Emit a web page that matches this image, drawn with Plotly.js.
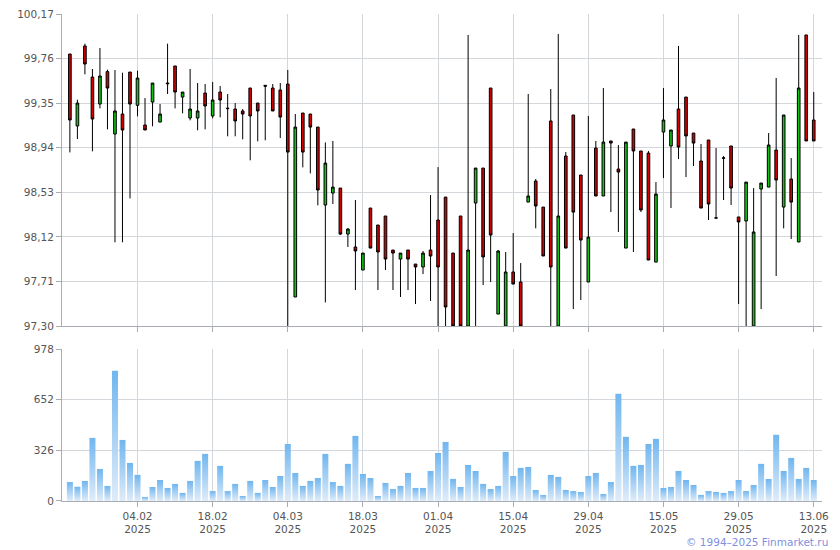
<!DOCTYPE html>
<html>
<head>
<meta charset="utf-8">
<script src="https://cdn.plot.ly/plotly-3.0.1.min.js"></script>
<style>
html,body{margin:0;padding:0;background:#fff;}
#chart{width:840px;height:550px;}
</style>
</head>
<body>
<div id="chart"></div>
<script>
const dates = [
"2025-01-22","2025-01-23","2025-01-24","2025-01-27","2025-01-28","2025-01-29","2025-01-30","2025-01-31","2025-02-03","2025-02-04",
"2025-02-05","2025-02-06","2025-02-07","2025-02-10","2025-02-11","2025-02-12","2025-02-13","2025-02-14","2025-02-17","2025-02-18",
"2025-02-19","2025-02-20","2025-02-21","2025-02-24","2025-02-25","2025-02-26","2025-02-27","2025-02-28","2025-03-03","2025-03-04",
"2025-03-05","2025-03-06","2025-03-07","2025-03-10","2025-03-11","2025-03-12","2025-03-13","2025-03-14","2025-03-17","2025-03-18",
"2025-03-19","2025-03-20","2025-03-21","2025-03-24","2025-03-25","2025-03-26","2025-03-27","2025-03-28","2025-03-31","2025-04-01",
"2025-04-02","2025-04-03","2025-04-04","2025-04-07","2025-04-08","2025-04-09","2025-04-10","2025-04-11","2025-04-14","2025-04-15",
"2025-04-16","2025-04-17","2025-04-18","2025-04-21","2025-04-22","2025-04-23","2025-04-24","2025-04-25","2025-04-28","2025-04-29",
"2025-04-30","2025-05-02","2025-05-05","2025-05-06","2025-05-07","2025-05-08","2025-05-12","2025-05-13","2025-05-14","2025-05-15",
"2025-05-16","2025-05-19","2025-05-20","2025-05-21","2025-05-22","2025-05-23","2025-05-26","2025-05-27","2025-05-28","2025-05-29",
"2025-05-30","2025-06-02","2025-06-03","2025-06-04","2025-06-05","2025-06-06","2025-06-09","2025-06-10","2025-06-11","2025-06-13"
];
const openP = [
99.802,99.140,99.876,99.590,99.342,99.640,99.066,99.250,99.636,99.330,
99.149,99.360,99.176,99.535,99.692,99.406,99.213,99.213,99.443,99.232,
99.452,99.304,99.296,99.278,99.489,99.351,99.514,99.489,99.471,99.526,
97.567,99.259,99.250,99.130,98.413,98.523,98.569,98.146,98.027,97.815,
98.385,98.229,98.312,97.999,97.916,97.999,97.870,97.843,97.999,98.275,
98.486,97.971,98.312,97.300,98.431,98.753,99.489,97.410,97.300,97.797,
97.705,98.440,98.634,98.394,99.186,97.300,98.864,99.241,98.689,97.705,
98.937,98.496,99.002,98.744,98.017,99.112,98.910,98.891,97.888,99.084,
98.956,99.296,99.406,99.075,98.818,99.011,98.295,98.847,98.956,98.303,
98.266,97.300,98.560,98.578,98.919,98.394,98.652,98.073,99.977,99.195
];
const highP = [
99.802,99.382,99.897,99.664,99.857,99.658,99.655,99.630,99.636,99.649,
99.397,99.535,99.342,99.897,99.692,99.452,99.664,99.535,99.526,99.544,
99.508,99.434,99.351,99.296,99.489,99.351,99.514,99.526,99.535,99.655,
99.250,99.259,99.250,99.130,98.989,99.002,98.569,98.201,98.459,97.971,
98.385,98.229,98.312,97.999,97.971,97.999,97.870,97.990,98.505,98.762,
98.486,97.971,98.312,99.977,98.753,98.753,99.489,97.999,97.981,98.155,
97.879,99.434,98.652,98.394,99.480,99.986,98.900,99.241,98.689,99.232,
99.002,99.489,99.002,98.965,98.992,99.112,98.910,98.910,98.624,99.489,
99.103,99.876,99.406,99.075,98.974,99.011,98.937,98.864,98.956,98.303,
98.624,98.569,98.615,99.075,99.581,99.241,98.845,99.977,99.977,99.452
];
const lowP = [
98.897,99.020,99.615,98.907,99.302,99.109,98.070,98.070,98.474,99.229,
99.103,99.137,99.176,99.434,99.302,99.256,99.192,99.100,99.109,99.210,
99.219,99.045,99.045,99.017,98.824,98.999,99.008,99.278,99.029,97.300,
97.567,98.759,98.704,98.410,97.517,98.422,98.137,98.027,97.631,97.815,
98.017,97.631,97.815,97.631,97.567,97.631,97.502,97.778,97.530,97.300,
97.300,97.300,97.300,97.300,97.300,97.677,97.705,97.410,97.300,97.686,
97.300,98.440,98.198,97.944,97.300,97.300,98.017,97.456,97.539,97.705,
98.496,98.496,98.348,98.165,98.017,97.981,98.348,97.907,97.888,98.661,
98.385,98.836,98.670,98.772,98.385,98.275,98.293,98.459,98.413,97.502,
97.300,97.300,97.456,98.578,97.760,98.198,98.100,98.073,99.002,99.002
];
const closeP = [
99.195,99.351,99.710,99.204,99.600,99.489,99.278,99.103,99.342,99.581,
99.103,99.535,99.250,99.529,99.452,99.452,99.296,99.278,99.324,99.379,
99.379,99.300,99.186,99.250,99.232,99.278,99.506,99.278,99.222,98.900,
99.130,98.900,99.130,98.551,98.799,98.578,98.146,98.192,97.990,97.971,
98.017,97.981,97.916,97.971,97.971,97.916,97.843,97.971,97.944,97.843,
97.475,97.300,97.300,97.999,98.753,97.935,98.137,97.990,97.797,97.686,
97.300,98.496,98.404,97.944,97.843,98.312,98.017,98.348,98.091,98.118,
98.496,98.992,98.983,98.716,98.992,98.910,98.367,97.907,98.514,99.195,
99.103,98.946,99.048,98.983,98.385,98.422,98.293,98.843,98.569,98.257,
98.624,98.165,98.615,98.965,98.643,99.241,98.440,99.489,99.002,99.002
];
const volume = [
122,92,129,406,206,97,838,393,245,168,
26,90,135,84,110,52,129,258,303,64,
226,64,110,32,129,52,135,90,161,367,
180,97,129,148,303,122,97,239,419,174,
148,32,116,77,97,180,84,84,193,309,
380,142,90,232,193,110,77,97,316,161,
213,219,71,39,168,155,71,64,58,161,
180,45,122,690,413,226,232,367,400,84,
90,193,135,103,39,64,58,52,64,135,
64,103,239,142,426,193,277,142,213,135
];
const tickDates = ["2025-02-04","2025-02-18","2025-03-04","2025-03-18","2025-04-01","2025-04-15","2025-04-29","2025-05-15","2025-05-29","2025-06-13"];
const tickLabels = ["04.02<br>2025","18.02<br>2025","04.03<br>2025","18.03<br>2025","01.04<br>2025","15.04<br>2025","29.04<br>2025","15.05<br>2025","29.05<br>2025","13.06<br>2025"];
const priceTicks = [97.30,97.71,98.12,98.53,98.94,99.35,99.76,100.17];
const priceLabels = ["97,30","97,71","98,12","98,53","98,94","99,35","99,76","100,17"];
const volTicks = [0,326,652,978];
const volLabels = ["0","326","652","978"];

const GRID = '#d3d7dc';
const AXIS = '#a8acb3';
const TXT = '#555555';
const FONT = {family:'"DejaVu Sans", Verdana, sans-serif', size:10.5, color:TXT};

const candle = {
  type:'candlestick', x:dates, open:openP, high:highP, low:lowP, close:closeP,
  xaxis:'x2', yaxis:'y2',
  increasing:{line:{color:'#000000', width:1}, fillcolor:'#14c214'},
  decreasing:{line:{color:'#000000', width:1}, fillcolor:'#d40000'},
  whiskerwidth:0, hoverinfo:'none', showlegend:false
};
const bars = {
  type:'bar', x:dates, y:volume, xaxis:'x', yaxis:'y',
  marker:{color:'#a8d0f4', line:{width:0}}, hoverinfo:'none', showlegend:false
};

const xRange = [-1.05, 100.1];
const layout = {
  width:840, height:550,
  margin:{l:62, r:18, t:14, b:49},
  paper_bgcolor:'#ffffff', plot_bgcolor:'#ffffff',
  font:FONT, bargap:0.2, boxgap:0.5,
  xaxis:{type:'category', range:xRange, anchor:'y', domain:[0,1],
    tickmode:'array', tickvals:tickDates, ticktext:tickLabels,
    showgrid:true, gridcolor:GRID, gridwidth:1,
    showline:true, linecolor:AXIS, linewidth:1,
    ticks:'outside', ticklen:5, tickcolor:AXIS, tickfont:FONT, zeroline:false,
    rangeslider:{visible:false}},
  xaxis2:{type:'category', range:xRange, anchor:'y2', domain:[0,1], matches:'x',
    tickmode:'array', tickvals:tickDates, ticktext:tickLabels, showticklabels:false,
    showgrid:true, gridcolor:GRID, gridwidth:1,
    showline:true, linecolor:AXIS, linewidth:1,
    ticks:'outside', ticklen:5, tickcolor:AXIS, zeroline:false,
    rangeslider:{visible:false}},
  yaxis:{domain:[0,0.3121], range:[0,978], tickmode:'array', tickvals:volTicks, ticktext:volLabels,
    showgrid:true, gridcolor:GRID, showline:true, linecolor:AXIS, linewidth:1,
    ticks:'outside', ticklen:5, tickcolor:AXIS, tickfont:FONT, zeroline:false, fixedrange:true},
  yaxis2:{domain:[0.3593,1], range:[97.30,100.17], tickmode:'array', tickvals:priceTicks, ticktext:priceLabels,
    showgrid:true, gridcolor:GRID, showline:true, linecolor:AXIS, linewidth:1,
    ticks:'outside', ticklen:5, tickcolor:AXIS, tickfont:FONT, zeroline:false, fixedrange:true},
  annotations:[{text:'© 1994–2025 Finmarket.ru', xref:'paper', yref:'paper', x:1.0105, y:-0.1, xanchor:'right', yanchor:'bottom',
    showarrow:false, font:{family:'"DejaVu Sans", Verdana, sans-serif', size:10.5, color:'#7f90e0'}}]
};

Plotly.newPlot('chart', [bars, candle], layout, {staticPlot:true, displayModeBar:false}).then(function(gd){
  const svg = gd.querySelector('svg.main-svg');
  const NS = 'http://www.w3.org/2000/svg';
  let defs = svg.querySelector('defs');
  if(!defs){ defs = document.createElementNS(NS,'defs'); svg.insertBefore(defs, svg.firstChild); }
  const lg = document.createElementNS(NS,'linearGradient');
  lg.setAttribute('id','volgrad'); lg.setAttribute('x1','0'); lg.setAttribute('y1','0'); lg.setAttribute('x2','0'); lg.setAttribute('y2','1');
  [['0%','#70b6ef'],['100%','#e0ecf9']].forEach(function(s){
    const st = document.createElementNS(NS,'stop'); st.setAttribute('offset',s[0]); st.setAttribute('stop-color',s[1]); lg.appendChild(st);
  });
  defs.appendChild(lg);
  gd.querySelectorAll('.barlayer .point path').forEach(function(p){ p.style.fill = 'url(#volgrad)'; });
});
</script>
</body>
</html>
